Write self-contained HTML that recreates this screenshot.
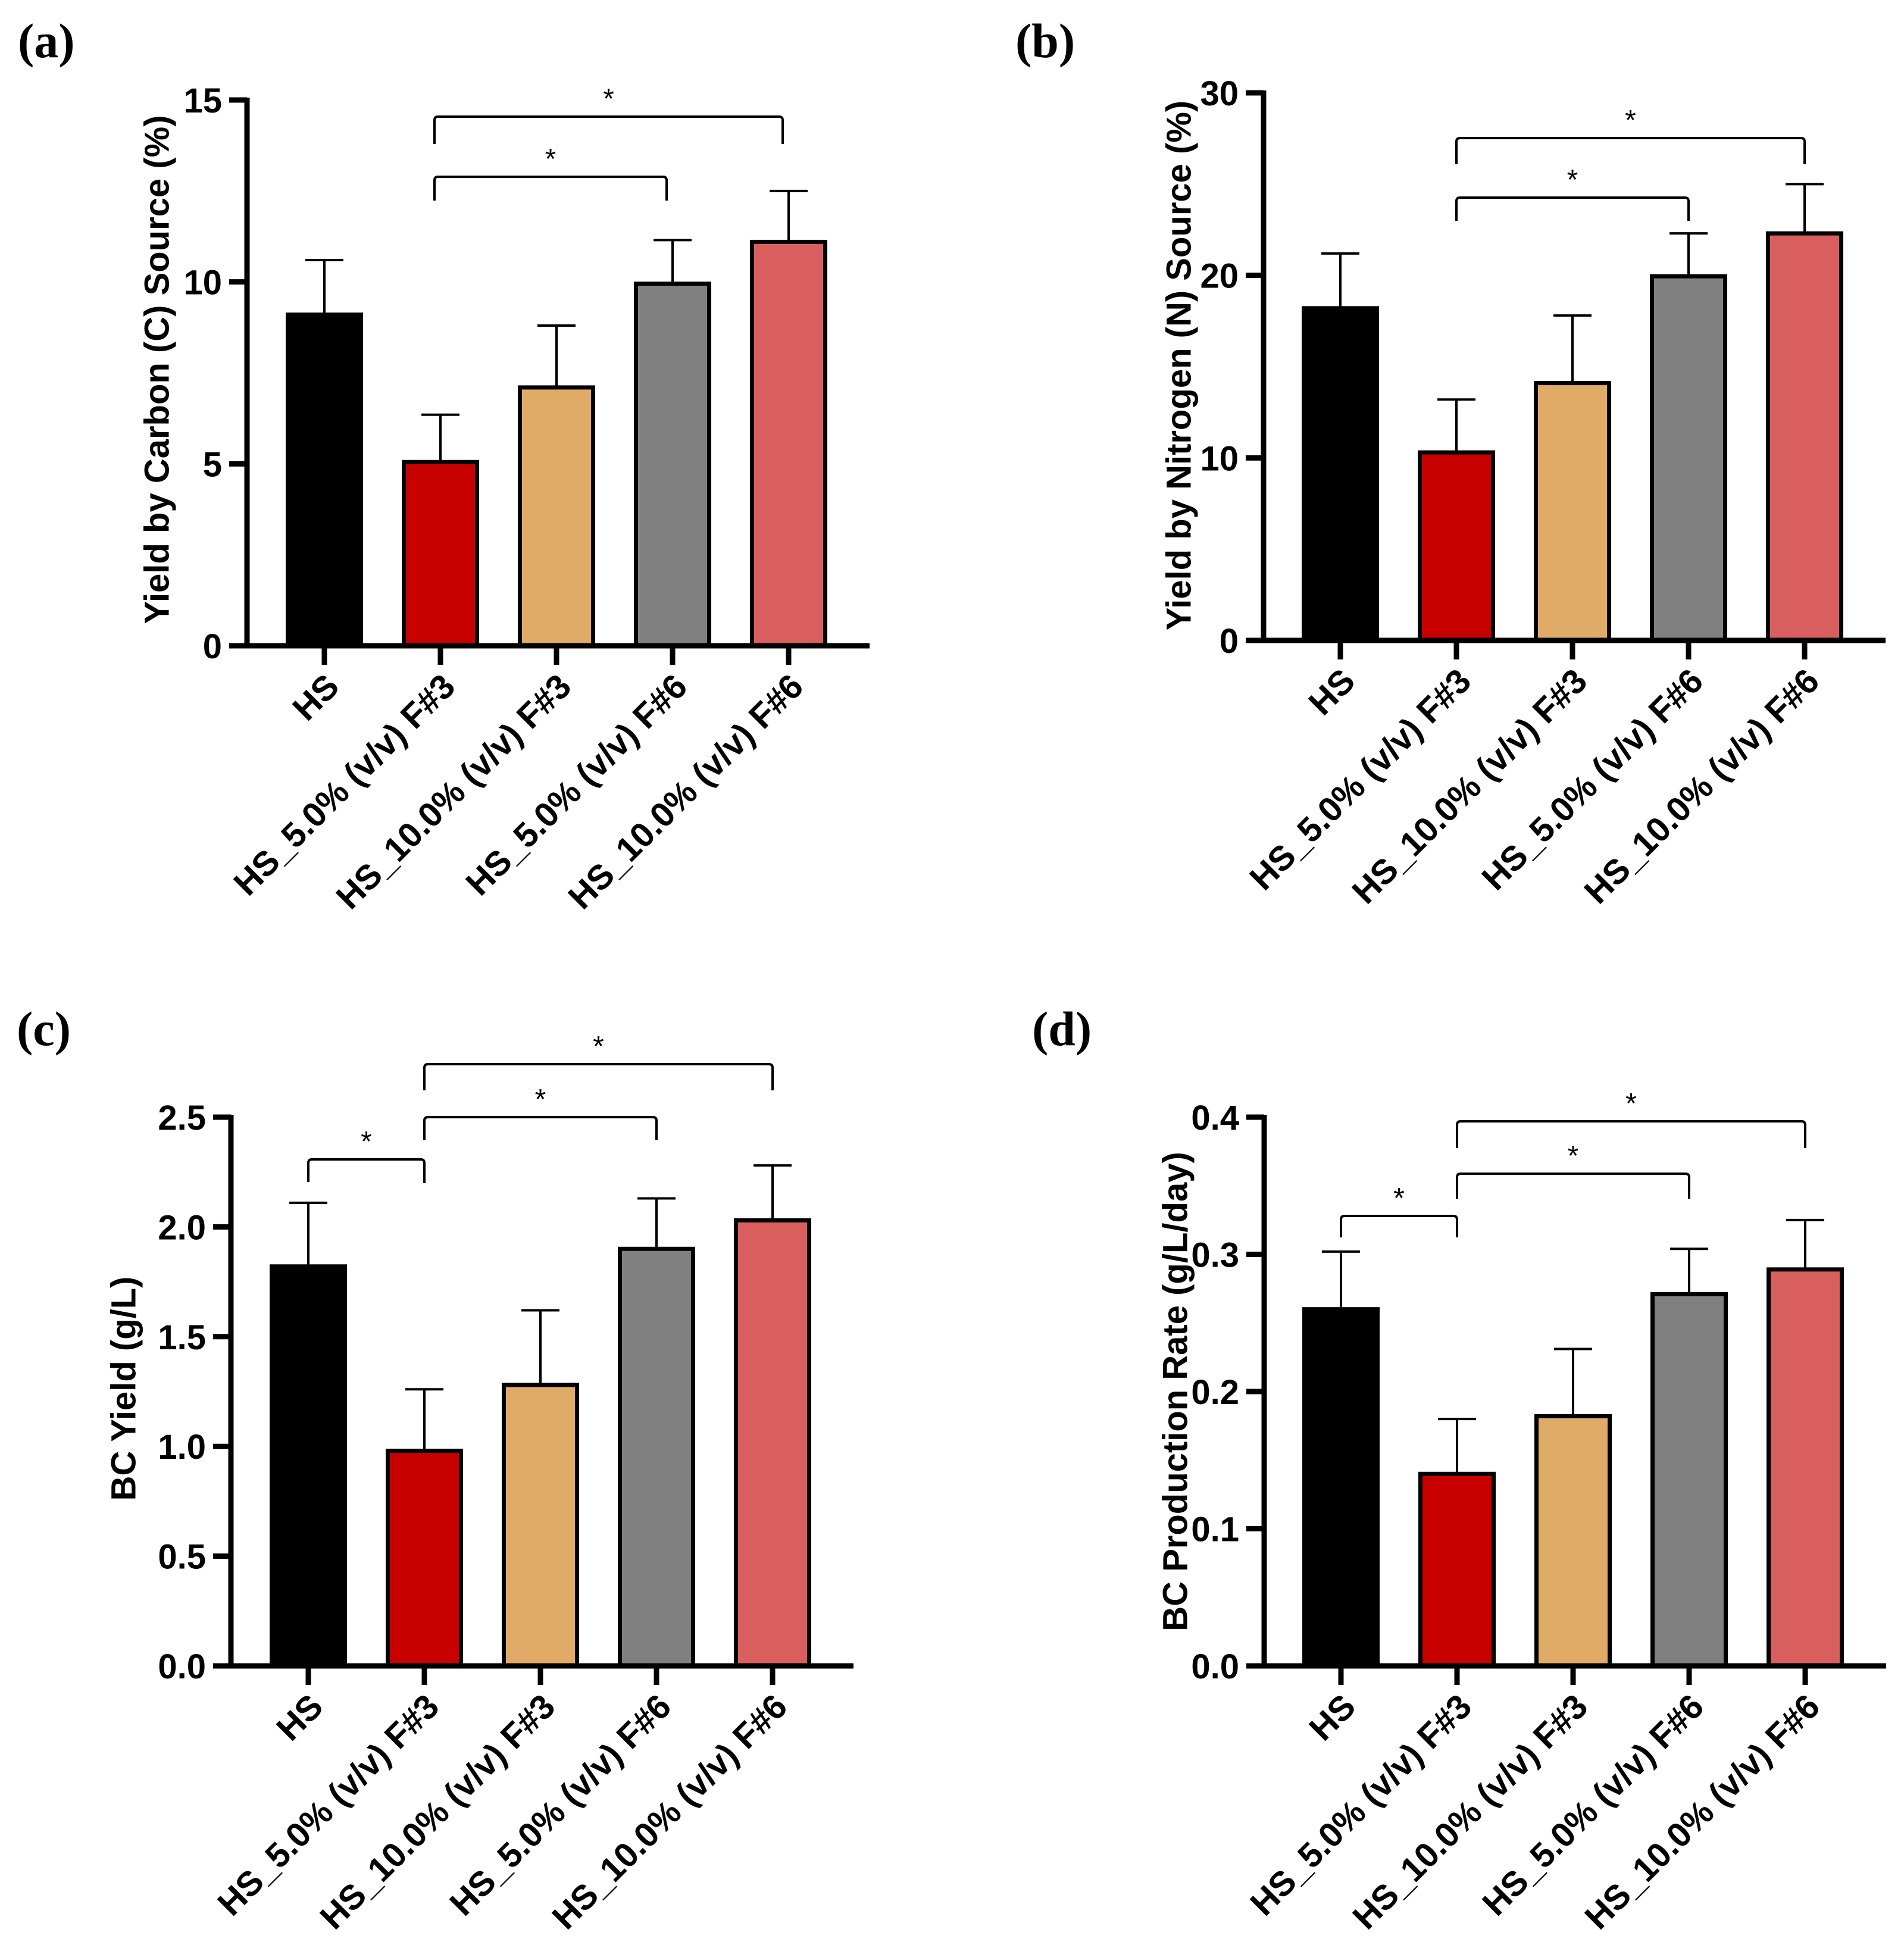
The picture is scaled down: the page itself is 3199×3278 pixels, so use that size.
<!DOCTYPE html>
<html><head><meta charset="utf-8">
<style>
html,body{margin:0;padding:0;background:#fff;}
svg{display:block;}
</style></head>
<body>
<svg id="fig" xmlns="http://www.w3.org/2000/svg" width="3199" height="3278" viewBox="0 0 3199 3278">
<rect width="3199" height="3278" fill="#fff"/>
</svg>
<script>
const categories = ["HS","HS_5.0% (v/v) F#3","HS_10.0% (v/v) F#3","HS_5.0% (v/v) F#6","HS_10.0% (v/v) F#6"];
const colors = ["#000000","#c80000","#e0ab67","#808080","#d95f5f"];
const valuesA = [9.1, 5.05, 7.1, 9.95, 11.1];
const errorsA = [1.5, 1.3, 1.7, 1.2, 1.4];
const ticksA = [0, 5, 10, 15];
const tickLabelsA = ["0","5","10","15"];
const valuesB = [18.2, 10.3, 14.1, 19.95, 22.3];
const errorsB = [3.0, 2.9, 3.7, 2.35, 2.7];
const ticksB = [0, 10, 20, 30];
const tickLabelsB = ["0","10","20","30"];
const valuesC = [1.82, 0.98, 1.28, 1.90, 2.03];
const errorsC = [0.29, 0.28, 0.34, 0.23, 0.25];
const ticksC = [0, 0.5, 1.0, 1.5, 2.0, 2.5];
const tickLabelsC = ["0.0","0.5","1.0","1.5","2.0","2.5"];
const valuesD = [0.26, 0.14, 0.182, 0.271, 0.289];
const errorsD = [0.042, 0.040, 0.049, 0.033, 0.036];
const ticksD = [0, 0.1, 0.2, 0.3, 0.4];
const tickLabelsD = ["0.0","0.1","0.2","0.3","0.4"];

const NS = "http://www.w3.org/2000/svg";
const svg = document.getElementById("fig");
function mk(tag, attrs, parent){
  const e = document.createElementNS(NS, tag);
  for (const k in attrs) e.setAttribute(k, attrs[k]);
  (parent||svg).appendChild(e);
  return e;
}

function panel(cfg){
  const g = mk("g", {});
  
  
  const ymax = cfg.ticks[cfg.ticks.length-1];
  const ys = v => cfg.zeroY - (v/ymax)*(cfg.zeroY - cfg.topY);
  const xs = i => cfg.firstTick + i*cfg.step;
  const pl = mk("text", {x:cfg.letterX, y:cfg.letterY, "font-family":"Liberation Serif, serif", "font-weight":"bold", "font-size":"82"}, g);
  pl.textContent = "(" + cfg.id + ")";
  
  
  cfg.values.forEach((v,i)=>{
    const bw = 130, x = xs(i) - bw/2;
    const top = ys(v), top2 = ys(v + cfg.errors[i]);
    const eb = mk("g", {}, g);
    
    
    mk("line", {x1:xs(i), y1:top, x2:xs(i), y2:top2, stroke:"#000", "stroke-width":4}, eb);
    mk("line", {x1:xs(i)-32, y1:top2, x2:xs(i)+32, y2:top2, stroke:"#000", "stroke-width":4}, eb);
    const r = mk("rect", {x:x+3.5, y:top, width:bw-7, height:cfg.zeroY-top, fill:colors[i], stroke:"#000", "stroke-width":7}, g);
    
    
  });
  const ya = mk("line", {x1:cfg.axisX, y1:cfg.topY-4, x2:cfg.axisX, y2:cfg.zeroY+4, stroke:"#000", "stroke-width":9}, g);
  
  
  const xa = mk("line", {x1:cfg.axisX-30, y1:cfg.zeroY, x2:xs(4)+136, y2:cfg.zeroY, stroke:"#000", "stroke-width":9}, g);
  
  
  cfg.ticks.forEach((t,k)=>{
    mk("line", {x1:cfg.axisX-30, y1:ys(t), x2:cfg.axisX, y2:ys(t), stroke:"#000", "stroke-width":9}, g);
    const tl = mk("text", {x:cfg.axisX-42, y:ys(t)+21, "text-anchor":"end", "font-family":"Liberation Sans, sans-serif", "font-weight":"bold", "font-size":"58"}, g);
    tl.textContent = cfg.tickLabels[k];
    
    
  });
  categories.forEach((c,i)=>{
    mk("line", {x1:xs(i), y1:cfg.zeroY, x2:xs(i), y2:cfg.zeroY+32, stroke:"#000", "stroke-width":9}, g);
    const ax = xs(i)+28, ay = cfg.zeroY+72;
    const t = mk("text", {x:ax, y:ay, "text-anchor":"end", transform:`rotate(-45 ${ax} ${ay})`, "font-family":"Liberation Sans, sans-serif", "font-weight":"bold", "font-size":"58"}, g);
    t.textContent = c;
    
    
  });
  const yt = mk("text", {x:cfg.titleX, y:cfg.titleY, "text-anchor":"middle", transform:`rotate(-90 ${cfg.titleX} ${cfg.titleY})`, "dominant-baseline":"middle", "font-family":"Liberation Sans, sans-serif", "font-weight":"bold", "font-size":"58"}, g);
  yt.textContent = cfg.title;
  
  
  cfg.brackets.forEach(b=>{
    const bg = mk("g", {}, g);
    
    
    const x1 = xs(b[0]) + cfg.bdx, x2 = xs(b[1]) + cfg.bdx;
    mk("path", {d:`M${x1} ${b[3]} L${x1} ${b[2]+6} Q${x1} ${b[2]} ${x1+6} ${b[2]} L${x2-6} ${b[2]} Q${x2} ${b[2]} ${x2} ${b[2]+6} L${x2} ${b[4]}`, fill:"none", stroke:"#000", "stroke-width":4}, bg);
    const s = mk("text", {x:(x1+x2)/2, y:b[2]-14, "text-anchor":"middle", "font-family":"Liberation Sans, sans-serif", "font-size":"48"}, bg);
    s.textContent = "*";
  });
}

panel({id:"a", letterX:30, letterY:96, axisX:415, firstTick:545, step:195, topY:168, zeroY:1085,
  values:valuesA, errors:errorsA, ticks:ticksA, tickLabels:tickLabelsA, titleX:268, titleY:621,
  title:"Yield by Carbon (C) Source (%)", bdx:-10,
  brackets:[[1,3,297,337,337],[1,4,196,242,242]]});
panel({id:"b", letterX:1706, letterY:96, axisX:2123, firstTick:2252, step:195, topY:156, zeroY:1076,
  values:valuesB, errors:errorsB, ticks:ticksB, tickLabels:tickLabelsB, titleX:1985, titleY:614,
  title:"Yield by Nitrogen (N) Source (%)", bdx:0,
  brackets:[[1,3,332,371,371],[1,4,232,276,276]]});
panel({id:"c", letterX:28, letterY:1756, axisX:388, firstTick:518, step:195, topY:1877, zeroY:2799,
  values:valuesC, errors:errorsC, ticks:ticksC, tickLabels:tickLabelsC, titleX:212, titleY:2333,
  title:"BC Yield (g/L)", bdx:0,
  brackets:[[0,1,1948,1986,1988],[1,3,1877,1915,1915],[1,4,1788,1832,1832]]});
panel({id:"d", letterX:1734, letterY:1756, axisX:2124, firstTick:2253, step:195, topY:1877, zeroY:2799,
  values:valuesD, errors:errorsD, ticks:ticksD, tickLabels:tickLabelsD, titleX:1979, titleY:2338,
  title:"BC Production Rate (g/L/day)", bdx:0,
  brackets:[[0,1,2043,2079,2079],[1,3,1972,2014,2014],[1,4,1884,1929,1929]]});
</script>
</body></html>
